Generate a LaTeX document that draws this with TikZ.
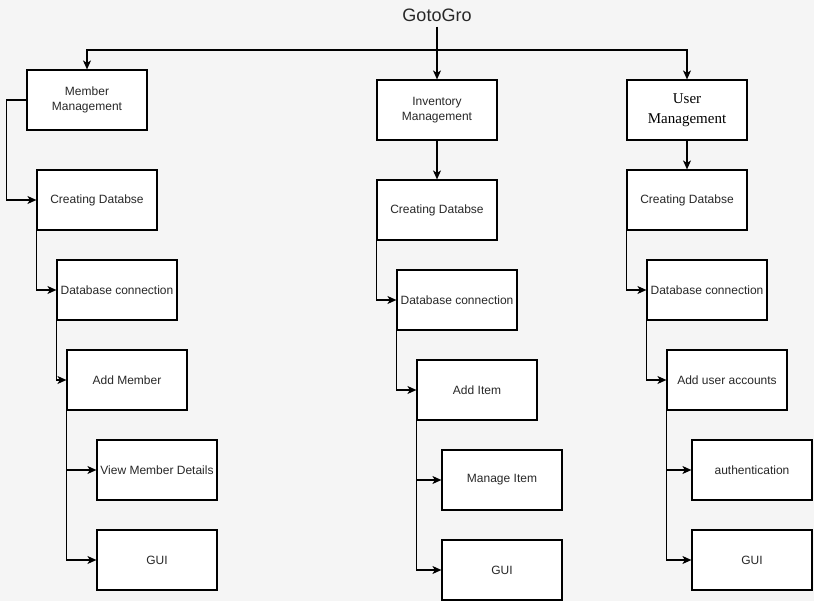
\documentclass[tikz,border=0pt]{standalone}
\usepackage{fontspec}
\setmainfont{Liberation Sans}
\newfontfamily\serifdoc{Liberation Serif}
\usepackage{xcolor}
\usepackage{tikz}
\usetikzlibrary{arrows.meta,positioning,calc}
\definecolor{canvas}{RGB}{245,245,245}
\definecolor{labeltext}{RGB}{40,40,40}

\begin{document}
\begin{tikzpicture}[
    x=1pt, y=-1pt,
    box/.style={rectangle, draw=black, fill=white, line width=1.2pt, minimum width=120pt, minimum height=60pt, inner sep=1pt, align=center, text=labeltext, font=\fontsize{12}{15}\selectfont},
    arrow/.style={-{Stealth[length=9pt, width=8pt, inset=2.5pt]}, line width=1.2pt, black}
]
    % Background
    \fill[canvas] (0,0) rectangle (814,601);

    % Title
    \node[font=\fontsize{18}{20}\selectfont, text=labeltext, inner sep=5pt] (title) at (437,15) {GotoGro};
    \coordinate (split) at (437,50);

    % Modules
    \node[box] (member) at (87,100) {Member\\Management};
    \node[box] (inventory) at (437,110) {Inventory\\Management};
    \node[box, text=black, font=\serifdoc\fontsize{15}{20}\selectfont] (user) at (687,110) {User\\Management};

    % Member branch
    \node[box] (memdb) at (97,200) {Creating Databse};
    \node[box] (memconn) at (117,290) {Database connection};
    \node[box] (memadd) at (127,380) {Add Member};
    \node[box] (memview) at (157,470) {View Member Details};
    \node[box] (memgui) at (157,560) {GUI};

    % Inventory branch
    \node[box] (invdb) at (437,210) {Creating Databse};
    \node[box] (invconn) at (457,300) {Database connection};
    \node[box] (invadd) at (477,390) {Add Item};
    \node[box] (invmanage) at (502,480) {Manage Item};
    \node[box] (invgui) at (502,570) {GUI};

    % User branch
    \node[box] (usrdb) at (687,200) {Creating Databse};
    \node[box] (usrconn) at (707,290) {Database connection};
    \node[box] (usradd) at (727,380) {Add user accounts};
    \node[box] (usrauth) at (752,470) {authentication};
    \node[box] (usrgui) at (752,560) {GUI};

    % Arrows from the title
    \draw[arrow] (title.south) -- (inventory.north);
    \draw[arrow] (split) -| (member.north);
    \draw[arrow] (split) -| (user.north);

    % Arrows of the member branch
    \draw[arrow] (member.west) -- ++(-20,0) |- (memdb.west);
    \draw[arrow] (memdb.south west) |- (memconn.west);
    \draw[arrow] (memconn.south west) |- (memadd.west);
    \draw[arrow] (memadd.south west) |- (memview.west);
    \draw[arrow] (memadd.south west) |- (memgui.west);

    % Arrows of the inventory branch
    \draw[arrow] (inventory.south) -- (invdb.north);
    \draw[arrow] (invdb.south west) |- (invconn.west);
    \draw[arrow] (invconn.south west) |- (invadd.west);
    \draw[arrow] (invadd.south west) |- (invmanage.west);
    \draw[arrow] (invadd.south west) |- (invgui.west);

    % Arrows of the user branch
    \draw[arrow] (user.south) -- (usrdb.north);
    \draw[arrow] (usrdb.south west) |- (usrconn.west);
    \draw[arrow] (usrconn.south west) |- (usradd.west);
    \draw[arrow] (usradd.south west) |- (usrauth.west);
    \draw[arrow] (usradd.south west) |- (usrgui.west);
\end{tikzpicture}
\end{document}
